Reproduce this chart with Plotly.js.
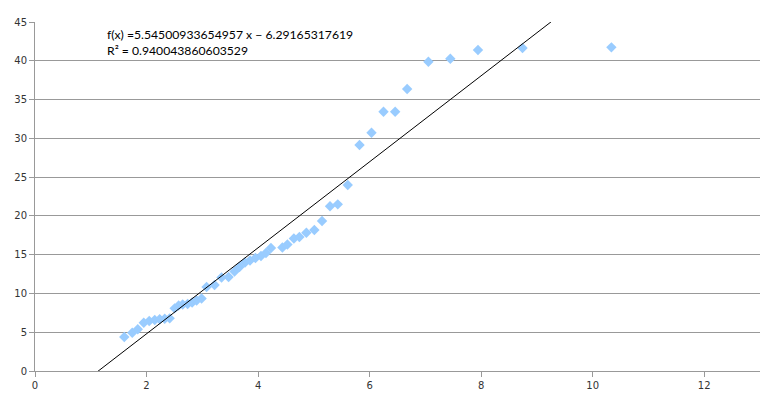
<!DOCTYPE html>
<html>
<head>
<meta charset="utf-8">
<script src="https://cdn.plot.ly/plotly-3.0.1.min.js"></script>
<style>html,body{margin:0;padding:0;background:#fff;}#chart{width:772px;height:420px;}</style>
</head>
<body>
<div id="chart"></div>
<script>
const xValues = [1.601,1.744,1.843,1.950,2.048,2.147,2.236,2.326,2.415,2.504,2.576,2.648,2.737,2.818,2.898,2.987,
  3.077,3.220,3.345,3.471,3.578,3.667,3.766,3.855,3.953,4.052,4.141,4.231,4.436,4.526,4.642,4.741,4.866,5.009,
  5.147,5.290,5.429,5.608,5.819,6.034,6.249,6.458,6.673,7.054,7.447,7.943,8.742,10.335];
const yValues = [4.38,4.94,5.38,6.23,6.45,6.58,6.67,6.74,6.79,8.08,8.45,8.57,8.64,8.83,9.09,9.35,
  10.83,11.09,12.06,12.12,12.83,13.41,13.99,14.25,14.57,14.83,15.21,15.86,15.92,16.31,17.08,17.28,17.83,18.18,
  19.34,21.24,21.49,23.98,29.14,30.72,33.43,33.43,36.36,39.88,40.27,41.39,41.65,41.73];
const fitSlope = 5.54500933654957;
const fitIntercept = -6.29165317619;
const fitR2 = 0.940043860603529;
const xTicks = [0,2,4,6,8,10,12];
const yTicks = [0,5,10,15,20,25,30,35,40,45];

const lineX = [0, 13];
const lineY = lineX.map(x => fitSlope * x + fitIntercept);

const data = [
  {x: xValues, y: yValues, type: 'scatter', mode: 'markers',
   marker: {symbol: 'diamond', size: 8, color: '#99ccff'}, showlegend: false, hoverinfo: 'x+y'},
  {x: lineX, y: lineY, type: 'scatter', mode: 'lines',
   line: {color: '#000000', width: 1}, showlegend: false, hoverinfo: 'skip'}
];

const layout = {
  width: 772, height: 420,
  margin: {l: 35, r: 12, t: 22, b: 49},
  paper_bgcolor: '#ffffff', plot_bgcolor: '#ffffff',
  font: {family: 'DejaVu Sans, sans-serif', size: 10, color: '#333333'},
  xaxis: {range: [0, 13], tickvals: xTicks, showgrid: false, zeroline: false,
    showline: true, linecolor: '#999999', linewidth: 1,
    ticks: 'outside', ticklen: 5, tickcolor: '#999999', fixedrange: true},
  yaxis: {range: [0, 45], tickvals: yTicks, showgrid: true, gridcolor: '#999999', gridwidth: 1,
    zeroline: false, showline: true, linecolor: '#999999', linewidth: 1,
    ticks: 'outside', ticklen: 5, tickcolor: '#999999', fixedrange: true},
  annotations: [{
    xref: 'paper', yref: 'paper', x: 0.0965, y: 0.99, xanchor: 'left', yanchor: 'top',
    align: 'left', showarrow: false,
    font: {family: 'Lato, sans-serif', size: 12.2, color: '#000000'},
    text: 'f(x) =' + fitSlope.toString() + ' x − ' + Math.abs(fitIntercept).toString() + '<br>R² = ' + fitR2.toString()
  }]
};

Plotly.newPlot('chart', data, layout, {displayModeBar: false, staticPlot: true});
</script>
</body>
</html>
